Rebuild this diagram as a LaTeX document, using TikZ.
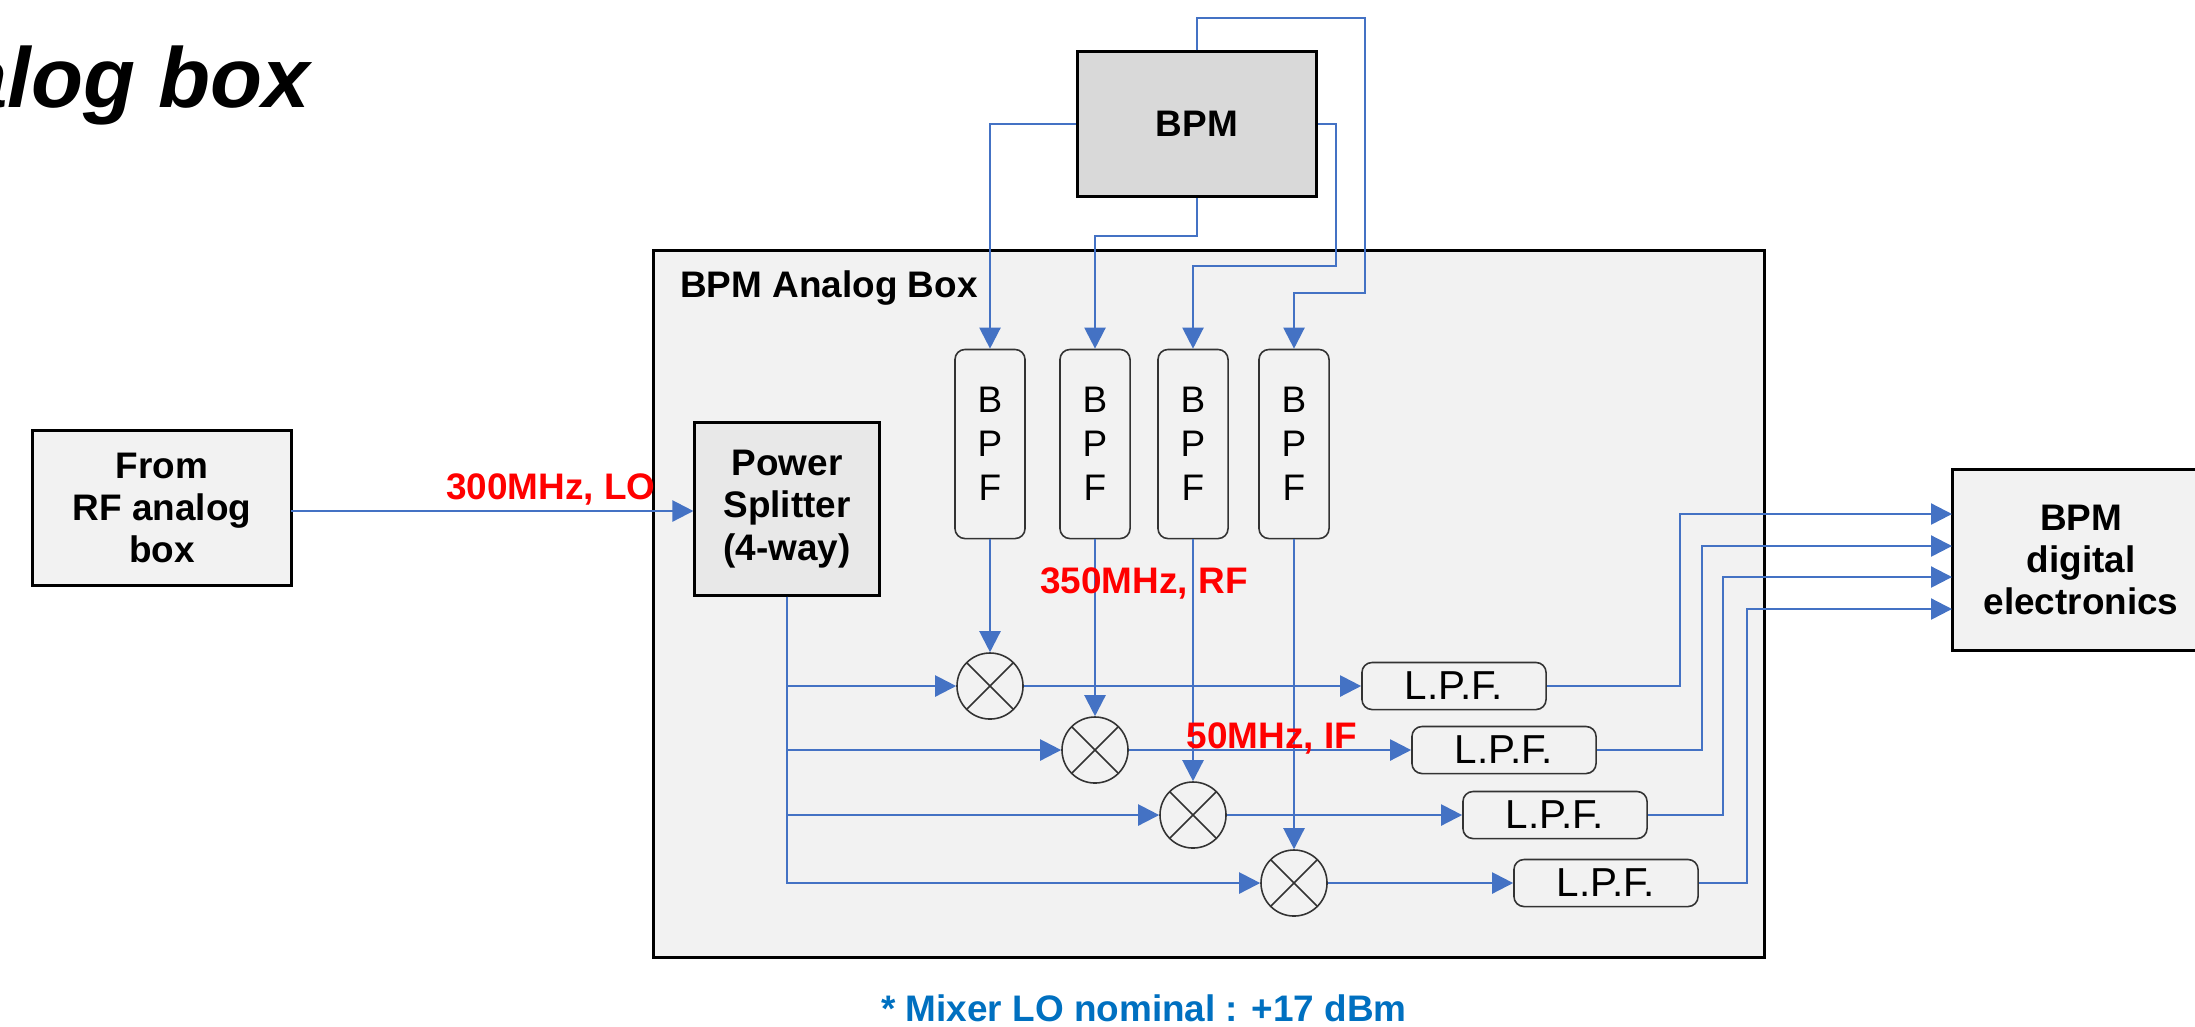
\documentclass[tikz,border=0pt]{standalone}
\usepackage{fontspec}
\setmainfont{Liberation Sans}
\usepackage{xcolor}
\usetikzlibrary{positioning, calc, arrows.meta}
\definecolor{linkblue}{HTML}{4472C4}
\definecolor{notecolor}{HTML}{0070C0}
\definecolor{labelred}{HTML}{FF0000}

\begin{document}
\begin{tikzpicture}[x=0.01cm,y=-0.01cm,
    blockbox/.style={draw=black,line width=0.85pt,inner sep=0pt,align=center,font=\fontsize{10.5}{12}\selectfont\bfseries},
    filterbox/.style={draw=black!80,line width=0.45pt,rounded corners=0.1cm,inner sep=0pt,align=center,font=\fontsize{10.5}{12.5}\selectfont},
    lowpass/.style={filterbox,minimum width=1.84cm,minimum height=0.47cm,font=\fontsize{11.5}{13}\selectfont},
    bandpass/.style={filterbox,minimum width=0.70cm,minimum height=1.89cm},
    mixer/.style={draw=black!80,line width=0.45pt,circle,minimum size=0.66cm,inner sep=0pt,
      path picture={\draw[black!80,line width=0.45pt] (path picture bounding box.north west)--(path picture bounding box.south east)
        (path picture bounding box.north east)--(path picture bounding box.south west);}},
    link/.style={draw=linkblue,line width=0.65pt},
    feed/.style={link,-{Triangle[length=0.21cm,width=0.21cm]}},
    freqlabel/.style={text=labelred,font=\fontsize{10.5}{12}\selectfont\bfseries,inner sep=0pt}]
      \useasboundingbox (0,0) rectangle (2195,1026);
      \node[blockbox,anchor=north west,fill=black!5,minimum width=11.10cm,minimum height=7.07cm] (box) at (652,249) {};%analog box
      \node[font=\fontsize{10.5}{12}\selectfont\bfseries,inner sep=0pt] (boxname) at (829,288) {BPM Analog Box};
      \node[font=\fontsize{24.2}{26}\selectfont\bfseries\itshape,inner sep=0pt,anchor=base east] (title) at (311,107) {alog box};
      \node[blockbox,fill=black!15,minimum width=2.39cm,minimum height=1.44cm] (bpm) at (1197,124) {BPM};
      \node[blockbox,fill=black!5,minimum width=2.59cm,minimum height=1.54cm] (rf) at (162,508) {From\\RF analog\\box};
      \node[blockbox,fill=black!9,minimum width=1.84cm,minimum height=1.72cm] (split) at (787,509) {Power\\Splitter\\(4-way)};
      \node[blockbox,fill=black!5,minimum width=2.56cm,minimum height=1.81cm] (dig) at (2081,560) {BPM\\digital\\electronics};

      %BPF
      \node[bandpass] (bpf1) at (990,444) {B\\P\\F};
      \node[bandpass] (bpf2) at (1095,444) {B\\P\\F};
      \node[bandpass] (bpf3) at (1193,444) {B\\P\\F};
      \node[bandpass] (bpf4) at (1294,444) {B\\P\\F};

      %mixer
      \node[mixer] (mix1) at (990,686) {};
      \node[mixer] (mix2) at (1095,750) {};
      \node[mixer] (mix3) at (1193,815) {};
      \node[mixer] (mix4) at (1294,883) {};

      %LPF
      \node[lowpass] (lpf1) at (1454,686) {L.P.F.};
      \node[lowpass] (lpf2) at (1504,750) {L.P.F.};
      \node[lowpass] (lpf3) at (1555,815) {L.P.F.};
      \node[lowpass] (lpf4) at (1606,883) {L.P.F.};

      \coordinate (rfout) at (291,511);
      \coordinate (drop2) at (1095,236);
      \coordinate (side3) at (1336,266);
      \coordinate (top4) at (1365,18);
      \coordinate (back4) at (1365,293);
      \coordinate (in1) at (1952,514);
      \coordinate (in2) at (1952,546);
      \coordinate (in3) at (1952,577);
      \coordinate (in4) at (1952,609);
      \coordinate (riser1) at (1680,514);
      \coordinate (riser2) at (1702,546);
      \coordinate (riser3) at (1723,577);
      \coordinate (riser4) at (1747,609);

      \draw[feed] (rfout)--(rfout-|split.west);
      \draw[feed] (bpm.west)-|(bpf1.north);
      \draw[feed] (bpm.south)|-(drop2)--(bpf2.north);
      \draw[feed] (bpm.east)-|(side3)-|(bpf3.north);
      \draw[feed] (bpm.north)|-(top4)--(back4)-|(bpf4.north);

      \draw[feed] (bpf1.south)--(mix1.north);
      \draw[feed] (bpf2.south)--(mix2.north);
      \draw[feed] (bpf3.south)--(mix3.north);
      \draw[feed] (bpf4.south)--(mix4.north);

      \draw[feed] (split.south)|-(mix1.west);
      \draw[feed] (split.south)|-(mix2.west);
      \draw[feed] (split.south)|-(mix3.west);
      \draw[feed] (split.south)|-(mix4.west);

      \draw[feed] (mix1.east)--(lpf1.west);
      \draw[feed] (mix2.east)--(lpf2.west);
      \draw[feed] (mix3.east)--(lpf3.west);
      \draw[feed] (mix4.east)--(lpf4.west);

      \draw[feed] (lpf1.east)-|(riser1)--(in1);
      \draw[feed] (lpf2.east)-|(riser2)--(in2);
      \draw[feed] (lpf3.east)-|(riser3)--(in3);
      \draw[feed] (lpf4.east)-|(riser4)--(in4);

      \node[freqlabel] (lolabel) at (551,489) {300MHz, LO};
      \node[freqlabel] (rflabel) at (1144,583) {350MHz, RF};
      \node[freqlabel] (iflabel) at (1272,738) {50MHz, IF};
      \node[text=notecolor,font=\fontsize{10.5}{12}\selectfont\bfseries,inner sep=0pt] (note) at (1144,1008) {* Mixer LO nominal : +17 dBm};
    \end{tikzpicture}
\end{document}
